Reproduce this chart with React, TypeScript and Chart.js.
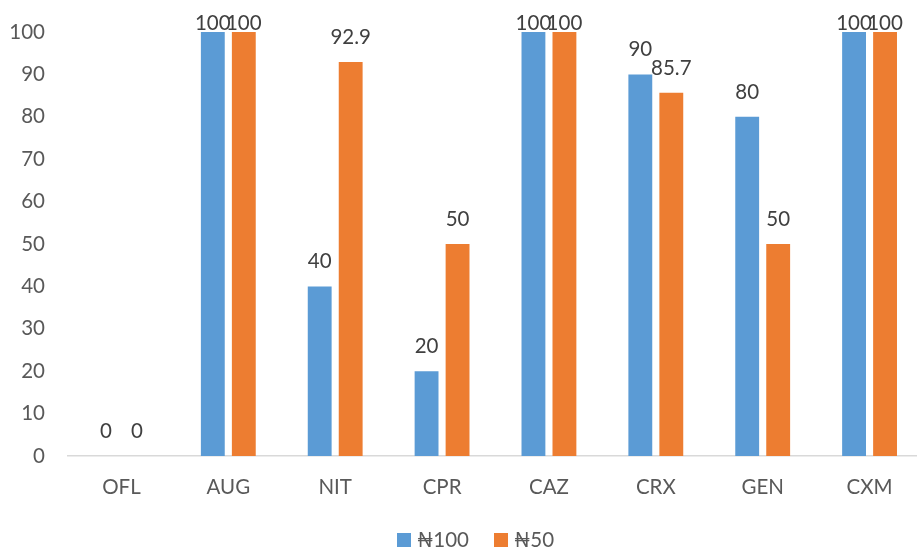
import React, { useEffect, useRef } from "react";
import { Chart, registerables } from "chart.js";

Chart.register(...registerables);

const categories = ["OFL", "AUG", "NIT", "CPR", "CAZ", "CRX", "GEN", "CXM"];
const seriesN100 = [0, 100, 40, 20, 100, 90, 80, 100];
const seriesN50 = [0, 100, 92.9, 50, 100, 85.7, 50, 100];
const seriesLabels = ["₦100", "₦50"];
const seriesColors = ["#5B9BD5", "#ED7D31"];

const FONT = "Lato, 'Noto Sans', 'DejaVu Sans', sans-serif";

// Value labels above each bar, kept inside the top of the canvas
const valueLabels = {
  id: "valueLabels",
  afterDatasetsDraw(chart: any) {
    const ctx = chart.ctx;
    ctx.save();
    ctx.font = `20.5px ${FONT}`;
    ctx.fillStyle = "#404040";
    ctx.textAlign = "center";
    ctx.textBaseline = "alphabetic";
    chart.data.datasets.forEach((ds: any, di: number) => {
      const meta = chart.getDatasetMeta(di);
      meta.data.forEach((el: any, i: number) => {
        const y = Math.max(el.y - 18, 30);
        ctx.fillText(String(ds.data[i]), el.x, y);
      });
    });
    ctx.restore();
  },
};

// Legend row under the axis labels
const bottomLegend = {
  id: "bottomLegend",
  afterDraw(chart: any) {
    const ctx = chart.ctx;
    ctx.save();
    ctx.font = `20.5px ${FONT}`;
    ctx.textBaseline = "middle";
    ctx.textAlign = "left";
    const y = 540;
    let x = 397;
    chart.data.datasets.forEach((ds: any) => {
      ctx.fillStyle = ds.backgroundColor;
      ctx.fillRect(x, y - 7, 14, 14);
      ctx.fillStyle = "#595959";
      ctx.fillText(ds.label, x + 20, y);
      x += 20 + ctx.measureText(ds.label).width + 25;
    });
    ctx.restore();
  },
};

export default function App() {
  const ref = useRef<HTMLCanvasElement | null>(null);

  useEffect(() => {
    document.body.style.margin = "0";
    document.body.style.background = "#ffffff";
    const canvas = ref.current;
    if (!canvas) return;
    const chart = new Chart(canvas, {
      type: "bar",
      data: {
        labels: categories,
        datasets: [
          {
            label: seriesLabels[0],
            data: seriesN100,
            backgroundColor: seriesColors[0],
            categoryPercentage: 0.58,
            barPercentage: 0.77,
          },
          {
            label: seriesLabels[1],
            data: seriesN50,
            backgroundColor: seriesColors[1],
            categoryPercentage: 0.58,
            barPercentage: 0.77,
          },
        ],
      },
      options: {
        animation: false,
        responsive: false,
        maintainAspectRatio: false,
        layout: { padding: { top: 32, bottom: 31, left: 0, right: 0 } },
        plugins: {
          legend: { display: false },
          tooltip: { enabled: false },
        },
        scales: {
          x: {
            grid: { display: false, drawTicks: false },
            border: { display: true, color: "#D9D9D9", width: 1.5 },
            ticks: {
              color: "#595959",
              font: { family: FONT, size: 20.5 },
              padding: 19,
            },
            afterFit(scale: any) {
              scale.height = 60;
              scale.paddingLeft = 0;
              scale.paddingRight = 0;
            },
          },
          y: {
            min: 0,
            max: 100,
            grid: { display: false, drawTicks: false },
            border: { display: false },
            ticks: {
              stepSize: 10,
              color: "#595959",
              font: { family: FONT, size: 20.5 },
              padding: 23,
            },
            afterFit(scale: any) {
              scale.width = 68;
              scale.paddingTop = 0;
              scale.paddingBottom = 0;
            },
          },
        },
      },
      plugins: [valueLabels, bottomLegend],
    });
    return () => chart.destroy();
  }, []);

  return (
    <div style={{ width: 917, height: 547, overflow: "hidden", background: "#fff" }}>
      <canvas ref={ref} width={923} height={547} style={{ display: "block" }} />
    </div>
  );
}
